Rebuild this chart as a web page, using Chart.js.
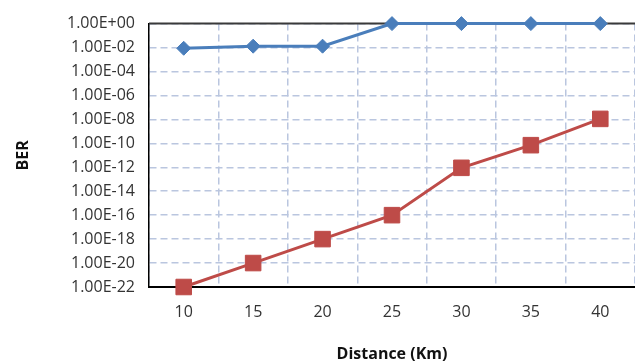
<!DOCTYPE html>
<html>
<head>
<meta charset="utf-8">
<script src="https://cdn.jsdelivr.net/npm/chart.js@4/dist/chart.umd.min.js"></script>
<style>
  html, body { margin: 0; padding: 0; background: #fff; }
  #ber-chart { display: block; }
</style>
</head>
<body>
<canvas id="ber-chart" width="635" height="362"></canvas>
<script>
// Distances on the x axis
const distances = ['10', '15', '20', '25', '30', '35', '40'];

// BER values
const berBlue = [8.7e-3, 1.3e-2, 1.3e-2, 1, 1, 1, 1];
const berRed = [1e-22, 1e-20, 1e-18, 1e-16, 9e-13, 7e-11, 1.1e-8];

// Y ticks: every second decade from 1E-22 to 1E+00
const yTicks = [1e-22, 1e-20, 1e-18, 1e-16, 1e-14, 1e-12, 1e-10, 1e-8, 1e-6, 1e-4, 1e-2, 1];

const gridColor = '#BAC6DF';

// Format as Excel does: 1.00E-02
function excelExp(v) {
    const [mant, exp] = v.toExponential(2).toUpperCase().split('E');
    const sign = exp[0];
    const digits = exp.slice(1).padStart(2, '0');
    return mant + 'E' + sign + digits;
}

// Dark top border of the plot area
const topBorder = {
    id: 'topBorder',
    beforeDatasetsDraw(chart) {
        const { ctx, chartArea } = chart;
        ctx.save();
        ctx.strokeStyle = '#3a3a3a';
        ctx.lineWidth = 2;
        ctx.beginPath();
        ctx.moveTo(chartArea.left, chartArea.top);
        ctx.lineTo(chartArea.right, chartArea.top);
        ctx.stroke();
        ctx.restore();
    }
};

const ctx = document.getElementById('ber-chart').getContext('2d');
new Chart(ctx, {
    type: 'line',
    data: {
        labels: distances,
        datasets: [{
            data: berBlue,
            borderColor: '#4A7EBB',
            backgroundColor: '#4A7EBB',
            borderWidth: 3,
            pointStyle: 'rectRot',
            pointRadius: 7,
            pointBorderWidth: 1,
            clip: false
        }, {
            data: berRed,
            borderColor: '#BE4B48',
            backgroundColor: '#BE4B48',
            borderWidth: 3,
            pointStyle: 'rect',
            pointRadius: 11,
            pointBorderWidth: 1,
            clip: false
        }]
    },
    options: {
        responsive: false,
        animation: false,
        layout: {
            autoPadding: false,
            padding: { top: 23, right: 0, bottom: 0, left: 0 }
        },
        plugins: {
            legend: { display: false },
            tooltip: { enabled: false }
        },
        scales: {
            x: {
                type: 'category',
                offset: true,
                afterFit(scale) { scale.height = 75; },
                grid: {
                    offset: true,
                    // the right edge is cut off in the original, so no line there
                    color: c => (c.index >= distances.length ? 'rgba(0,0,0,0)' : gridColor),
                    lineWidth: 1.5,
                    drawTicks: false
                },
                border: { color: '#000', width: 2, dash: [7, 4] },
                ticks: {
                    padding: 16,
                    color: '#333',
                    font: { family: 'Open Sans', size: 16 }
                },
                title: {
                    display: true,
                    text: 'Distance (Km)',
                    color: '#111',
                    padding: { top: 0, bottom: -2 },
                    font: { family: 'Open Sans', size: 16, weight: 'bold' }
                }
            },
            y: {
                type: 'logarithmic',
                min: 1e-22,
                max: 1,
                afterFit(scale) { scale.width = 149; },
                afterBuildTicks(scale) {
                    scale.ticks = yTicks.map(v => ({ value: v }));
                },
                grid: {
                    color: gridColor,
                    lineWidth: 1.5,
                    drawTicks: false
                },
                border: { color: '#000', width: 1.5, dash: [7, 4] },
                ticks: {
                    padding: 14,
                    color: '#333',
                    autoSkip: false,
                    font: { family: 'Open Sans', size: 16 },
                    callback: v => excelExp(v)
                },
                title: {
                    display: true,
                    text: 'BER',
                    color: '#111',
                    padding: { top: 14, bottom: 0 },
                    font: { family: 'Open Sans', size: 16, weight: 'bold' }
                }
            }
        }
    },
    plugins: [topBorder]
});
</script>
</body>
</html>
